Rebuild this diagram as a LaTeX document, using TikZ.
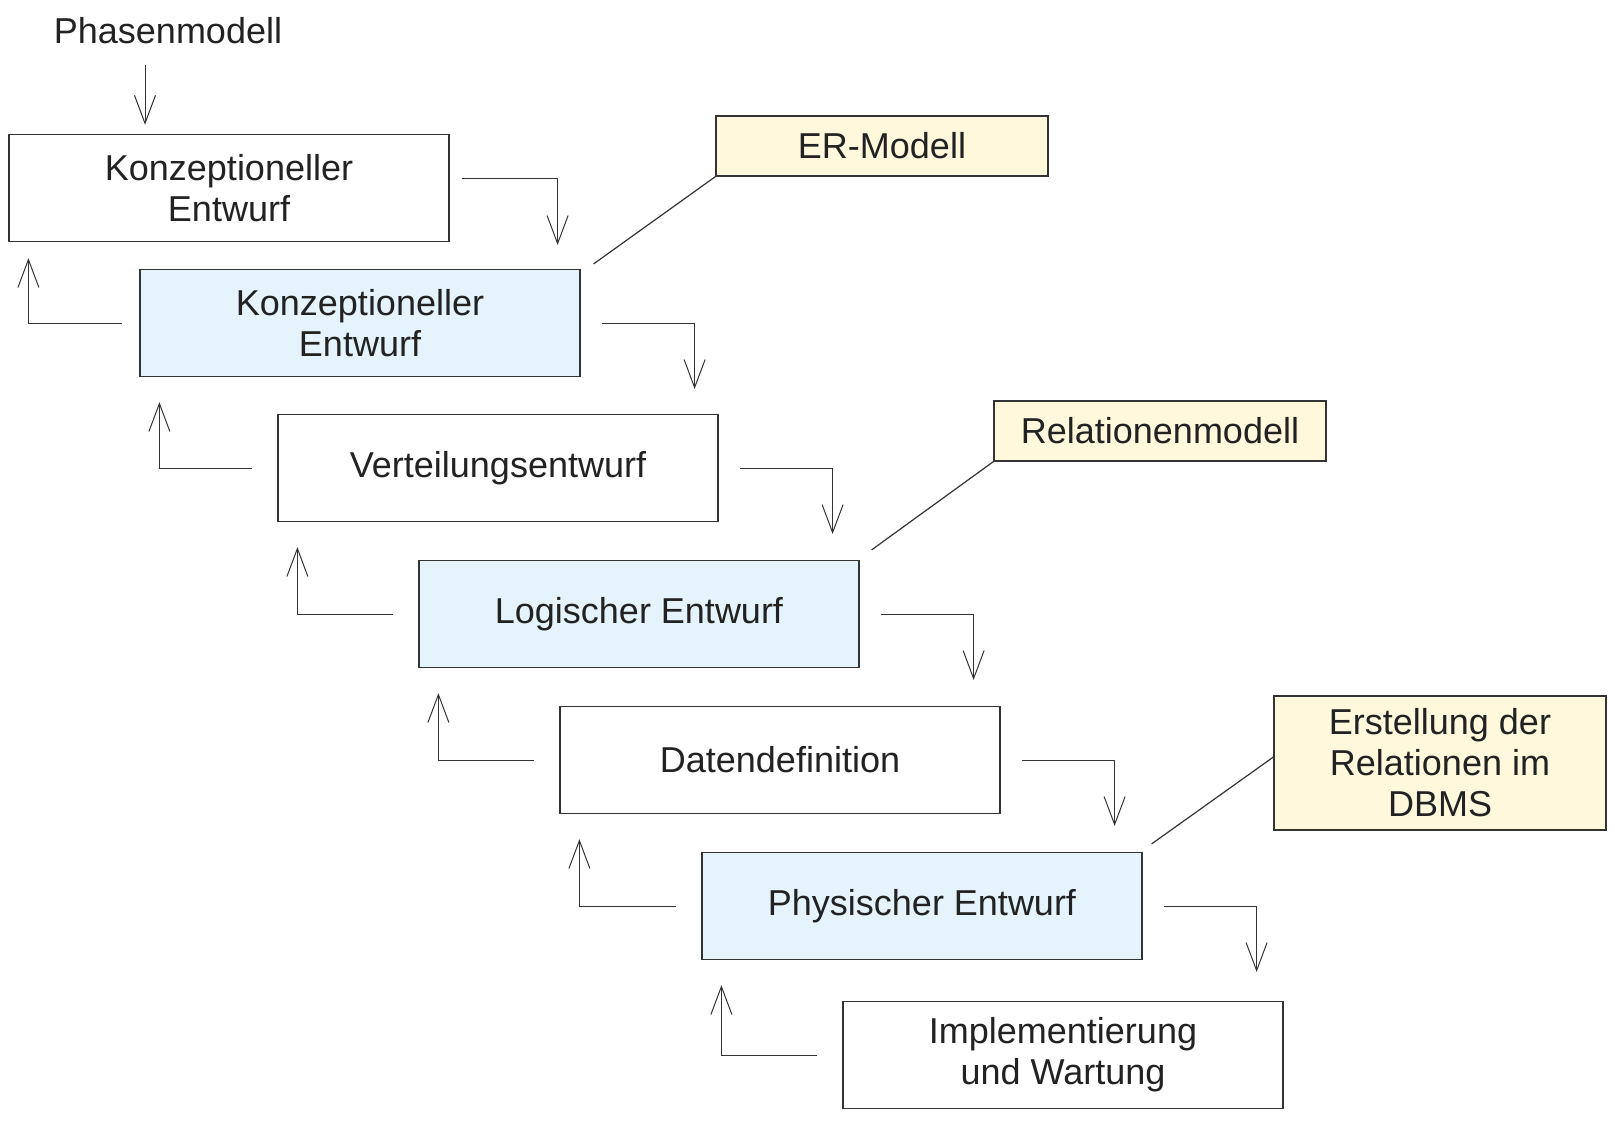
\documentclass[tikz,border=0pt]{standalone}
\usepackage{fontspec}
\setmainfont{Liberation Sans}
\usetikzlibrary{arrows.meta}
\definecolor{phaseblue}{HTML}{E5F3FD}
\definecolor{noteyellow}{HTML}{FFF8DC}
\definecolor{linegray}{HTML}{333333}
\definecolor{textgray}{HTML}{222222}

\begin{document}
\begin{tikzpicture}[x=1pt,y=-1pt,draw=linegray,text=textgray]
 	\def \boxwd{440pt}
 	\def \boxht{107pt}
 	\tikzstyle{p-box}=[rectangle,draw=linegray,line width=1.2pt,minimum width=\boxwd,minimum height=\boxht,align=center,inner sep=0pt,font=\fontsize{36}{41}\selectfont]
 	\tikzstyle{d-box}=[p-box,fill=phaseblue]
 	\tikzstyle{n-box}=[p-box,fill=noteyellow,minimum width=332pt,minimum height=60pt]
 	\tikzstyle{arr}=[draw=linegray,line width=1pt,-{Straight Barb[length=28pt,width=21pt]}]
 	\tikzstyle{link}=[draw=linegray,line width=1.2pt]
 	\fill[white] (0,0) rectangle (1615,1120);
 	\useasboundingbox (0,0) rectangle (1615,1120);
 	% title
 	\node[font=\fontsize{36}{41}\selectfont] (phase) at (168,31) {Phasenmodell};
 	% phases
 	\node[p-box] (b1) at (229,188)  {Konzeptioneller\\Entwurf};
 	\node[d-box] (b2) at (360,323)  {Konzeptioneller\\Entwurf};
 	\node[p-box] (b3) at (498,468)  {Verteilungsentwurf};
 	\node[d-box] (b4) at (639,614)  {Logischer Entwurf};
 	\node[p-box] (b5) at (780,760)  {Datendefinition};
 	\node[d-box] (b6) at (922,906)  {Physischer Entwurf};
 	\node[p-box] (b7) at (1063,1055) {Implementierung\\und Wartung};
 	% notes
 	\node[n-box] (er)   at (882,146)  {ER-Modell};
 	\node[n-box] (rel)  at (1160,431) {Relationenmodell};
 	\node[n-box,minimum height=134pt] (dbms) at (1440,763) {Erstellung der\\Relationen im\\DBMS};
 	% downward arrows
 	\draw[arr] ([xshift=-23pt,yshift=-17pt]phase.south) -- ++(0,60);
 	\draw[arr] ([xshift=12pt,yshift=10pt]b1.east) -| ([xshift=108pt,yshift=-57pt]b1.east);
 	\foreach \a in {2,...,6}{
 		\draw[arr] ([xshift=21pt]b\a.east) -| ([xshift=114pt,yshift=-66pt]b\a.east);
 	}
 	% upward arrows
 	\draw[arr] ([xshift=-17pt]b2.west) -| ([xshift=20pt,yshift=-16pt]b1.south west);
 	\foreach \a/\b in {3/2,4/3,5/4,6/5,7/6}{
 		\draw[arr] ([xshift=-25pt]b\a.west) -| ([xshift=20pt,yshift=-25pt]b\b.south west);
 	}
 	% note links
 	\draw[link] ([xshift=13pt,yshift=5pt]b2.north east) -- (er.south west);
 	\draw[link] ([xshift=12pt,yshift=10pt]b4.north east) -- (rel.south west);
 	\draw[link] ([xshift=9pt,yshift=8pt]b6.north east) -- ([yshift=6pt]dbms.west);
\end{tikzpicture}
\end{document}
